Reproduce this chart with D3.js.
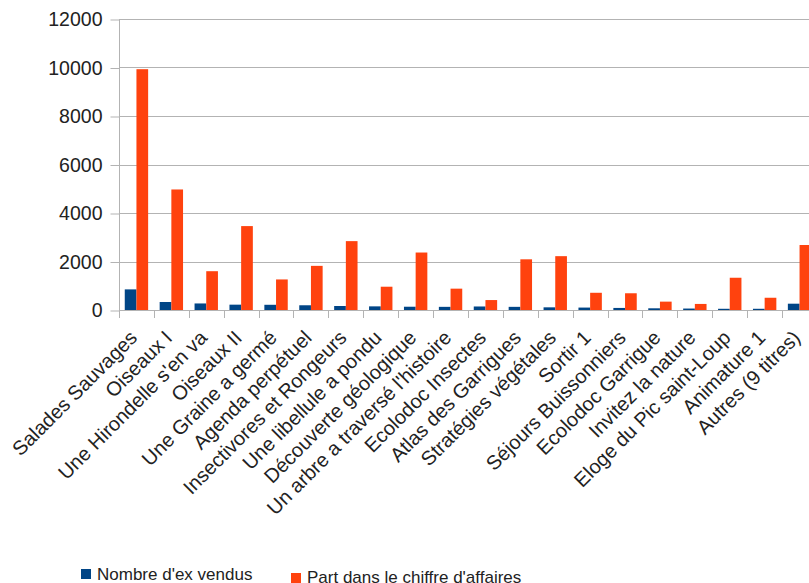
<!DOCTYPE html>
<html>
<head>
<meta charset="utf-8">
<script src="https://cdn.jsdelivr.net/npm/d3@7"></script>
<style>
  body { margin: 0; background: #fff; }
  svg { display: block; font-family: "Liberation Sans", Arial, sans-serif; }
  .grid line { stroke: #b3b3b3; stroke-width: 1; }
</style>
</head>
<body>
<div id="chart-area"></div>
<script>
var titles = ["Salades Sauvages", "Oiseaux I", "Une Hirondelle s'en va", "Oiseaux II",
    "Une Graine a germé", "Agenda perpétuel", "Insectivores et Rongeurs", "Une libellule a pondu",
    "Découverte géologique", "Un arbre a traversé l'histoire", "Ecolodoc Insectes",
    "Atlas des Garrigues", "Stratégies végétales", "Sortir 1", "Séjours Buissonniers",
    "Ecolodoc Garrigue", "Invitez la nature", "Eloge du Pic saint-Loup", "Animature 1",
    "Autres (9 titres)"];
var exVendus = [850, 330, 270, 220, 215, 195, 165, 150, 135, 130, 145, 130, 110, 100, 85, 70, 60, 50, 50, 260];
var partCA = [9930, 4970, 1600, 3460, 1260, 1820, 2840, 960, 2370, 880, 410, 2090, 2220, 710, 690, 345, 250, 1330, 505, 2680];
var seriesNames = ["Nombre d'ex vendus", "Part dans le chiffre d'affaires"];
var seriesColors = ["#004586", "#ff420e"];
var yTicks = [0, 2000, 4000, 6000, 8000, 10000, 12000];

var W = 809, H = 583;
var plotLeft = 119, plotTop = 19, plotBottom = 310, plotRight = 817;

var svg = d3.select("#chart-area")
    .append("svg")
    .attr("width", W)
    .attr("height", H);

var x = d3.scaleBand()
    .domain(titles)
    .range([plotLeft, plotRight])
    .paddingInner(0.33)
    .paddingOuter(0.165);

var xSub = d3.scaleBand()
    .domain([0, 1])
    .range([0, x.bandwidth()]);

var y = d3.scaleLinear()
    .domain([0, 12000])
    .range([plotBottom, plotTop]);

// gridlines
svg.append("g")
    .attr("class", "grid")
    .selectAll("line")
    .data(yTicks)
    .enter()
    .append("line")
    .attr("x1", plotLeft)
    .attr("x2", W)
    .attr("y1", (d) => Math.round(y(d)) + 0.5)
    .attr("y2", (d) => Math.round(y(d)) + 0.5);

// y axis
var yAxis = svg.append("g")
    .attr("transform", "translate(" + (plotLeft + 0.5) + ",0.5)")
    .call(d3.axisLeft(y).tickValues(yTicks).tickSize(9).tickPadding(8).tickFormat(d3.format("d")));
yAxis.select(".domain").remove();
yAxis.selectAll(".tick line").attr("stroke", "#b3b3b3");
yAxis.selectAll("text")
    .attr("fill", "#222")
    .style("font-size", "19.5px");

svg.append("line")
    .attr("x1", plotLeft + 0.5).attr("x2", plotLeft + 0.5)
    .attr("y1", plotTop).attr("y2", plotBottom + 8)
    .attr("stroke", "#b3b3b3");

// category boundary ticks
var step = x.step();
svg.append("g")
    .selectAll("line")
    .data(titles)
    .enter()
    .append("line")
    .attr("x1", (d) => Math.round(x(d) - x.paddingOuter() * step) + 0.5)
    .attr("x2", (d) => Math.round(x(d) - x.paddingOuter() * step) + 0.5)
    .attr("y1", plotBottom)
    .attr("y2", plotBottom + 8)
    .attr("stroke", "#b3b3b3");

// bars
var table = titles.map((t, i) => ({ title: t, values: [exVendus[i], partCA[i]] }));

var groups = svg.selectAll(".cat")
    .data(table)
    .enter()
    .append("g")
    .attr("class", "cat")
    .attr("transform", (d) => "translate(" + x(d.title) + ",0)");

groups.selectAll("rect")
    .data((d) => d.values.map((v, k) => ({ k: k, v: v })))
    .enter()
    .append("rect")
    .attr("x", (d) => xSub(d.k))
    .attr("y", (d) => y(d.v))
    .attr("width", xSub.bandwidth())
    .attr("height", (d) => plotBottom - y(d.v))
    .attr("fill", (d) => seriesColors[d.k]);

// x labels
svg.append("g")
    .selectAll("text")
    .data(titles)
    .enter()
    .append("text")
    .attr("transform", (d) => "translate(" + (x(d) + x.bandwidth() / 2 + 2) + ",339) rotate(-45)")
    .attr("text-anchor", "end")
    .attr("fill", "#222")
    .style("font-size", "20px")
    .text((d) => d);

// legend
var legendPos = [{ x: 81, y: 569, tx: 97, ty: 580 }, { x: 291, y: 573, tx: 307, ty: 582.5 }];
var legend = svg.selectAll(".legend")
    .data(seriesNames)
    .enter()
    .append("g")
    .attr("class", "legend");

legend.append("rect")
    .attr("x", (d, i) => legendPos[i].x)
    .attr("y", (d, i) => legendPos[i].y)
    .attr("width", 10)
    .attr("height", 10)
    .attr("fill", (d, i) => seriesColors[i]);

legend.append("text")
    .attr("x", (d, i) => legendPos[i].tx)
    .attr("y", (d, i) => legendPos[i].ty)
    .attr("fill", "#222")
    .style("font-size", "17px")
    .text((d) => d);
</script>
</body>
</html>
